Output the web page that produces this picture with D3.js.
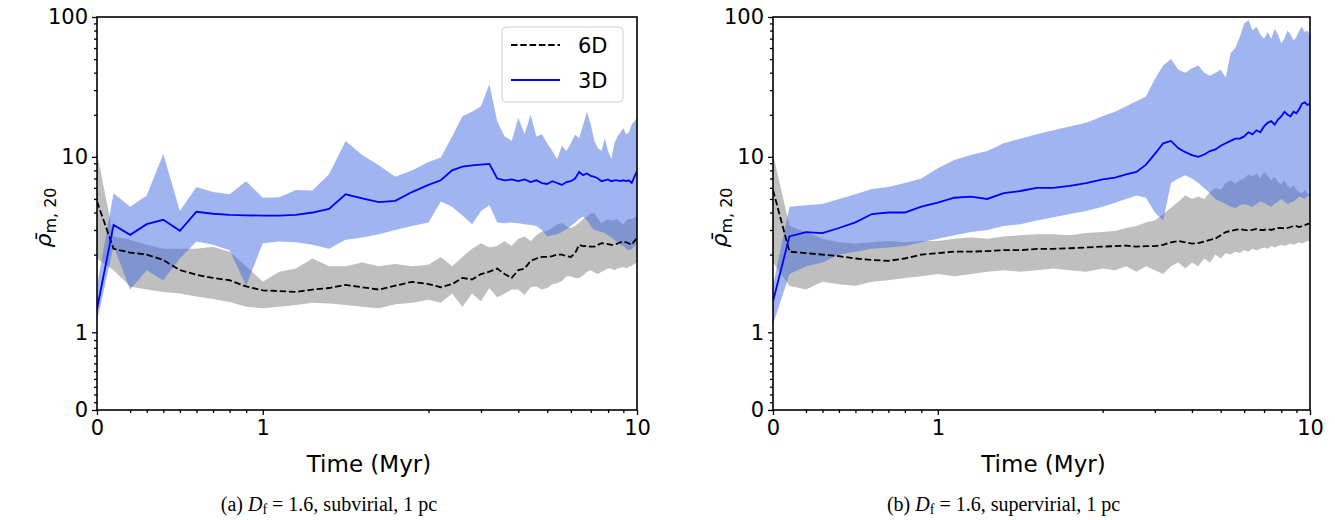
<!DOCTYPE html>
<html><head><meta charset="utf-8">
<script src="https://cdn.jsdelivr.net/npm/d3@7"></script>
<style>body{margin:0;background:#fff} svg{display:block}</style>
</head><body><svg id="c" width="1335" height="520"></svg>
<script>
// ---------------- DATA ----------------
const time = [0,0.1,0.2,0.3,0.4,0.5,0.6,0.7,0.8,0.9,1.0,1.1,1.2,1.3,1.4,1.5,1.6,1.7,1.8,1.9,
  2.0,2.2,2.4,2.6,2.8,3.0,3.2,3.4,3.6,3.8,4.0,4.2,4.4,4.6,4.8,5.0,5.2,5.4,5.6,5.8,6.0,6.2,6.4,6.6,6.8,7.0,7.2,7.4,7.6,7.8,8.0,8.2,8.4,8.6,8.8,9.0,9.2,9.4,9.6,9.8,10.0];

// panel (a) subvirial
const a3dMed = [1.3,3.26,2.77,3.3,3.55,2.96,4.05,3.92,3.85,3.82,3.8,3.8,3.85,4.0,4.25,5.4,5.05,4.75,4.85,5.6,
  6.3,6.8,8.0,8.5,8.7,8.8,8.9,7.0,6.8,6.9,6.7,6.9,6.6,6.8,6.5,6.4,6.7,6.5,6.3,6.6,6.7,7.0,7.8,7.4,7.6,7.3,7.2,7.0,6.7,6.8,6.9,6.7,6.8,6.8,6.7,6.8,6.7,6.8,6.5,7.2,7.9];
const a3dHi = [1.6,5.5,4.4,5.3,10.5,4.1,6.1,5.6,5.4,6.7,5.1,5.15,5.8,5.75,7.5,13.0,10.3,8.7,7.2,8.0,
  9.2,9.9,14,19.5,21,23,33,18,14,13,19,14.5,20,14,14.5,12.5,11,9.6,12,11,12.5,14.4,13.6,17,21,17,13,11.5,11,13.6,11,9.6,12.5,14,15,16,14.5,15,17,18,19];
const a3dLo = [1.15,2.3,1.55,1.8,1.67,1.95,2.48,2.35,2.15,1.6,2.41,2.48,2.45,2.35,2.2,2.55,2.65,2.8,3.0,3.2,
  3.4,4.8,4.4,3.8,3.3,4.1,4.5,3.4,3.35,3.4,3.35,3.3,3.25,3.2,3.0,2.7,2.75,2.8,2.9,3.05,3.2,3.4,3.6,3.74,3.5,3.2,3.0,2.95,2.9,2.85,2.75,2.65,2.55,2.45,2.35,2.3,2.2,2.15,2.2,2.3,2.4];
const a6dMed = [4.8,2.2,2.07,2.0,1.93,1.8,1.74,1.70,1.67,1.59,1.54,1.53,1.52,1.55,1.57,1.61,1.58,1.55,1.6,1.65,
  1.62,1.58,1.62,1.70,1.68,1.75,1.78,1.82,1.75,1.70,1.8,1.82,1.92,1.95,1.97,1.97,1.98,2.0,2.0,1.98,1.97,2.05,2.35,2.3,2.3,2.28,2.28,2.35,2.41,2.4,2.38,2.35,2.35,2.4,2.45,2.48,2.45,2.4,2.35,2.5,2.62];
const a6dHi = [10.6,2.7,2.55,2.35,2.2,2.2,2.2,2.28,2.1,1.85,1.65,1.78,1.82,1.95,1.85,1.85,1.9,1.85,1.88,1.85,
  1.87,1.97,1.85,1.97,2.2,2.41,2.25,2.3,2.5,2.3,2.6,2.7,2.5,2.75,2.92,2.95,3.1,3.3,3.35,3.2,3.1,3.2,3.4,3.6,3.74,3.95,3.95,3.6,3.35,3.5,3.6,3.5,3.55,3.6,3.4,3.3,3.5,3.6,3.6,3.7,3.74];
const a6dLo = [1.95,1.8,1.59,1.55,1.52,1.5,1.46,1.43,1.39,1.33,1.31,1.33,1.35,1.38,1.37,1.35,1.33,1.31,1.36,1.38,
  1.42,1.38,1.5,1.33,1.5,1.4,1.57,1.45,1.5,1.55,1.55,1.48,1.58,1.59,1.55,1.57,1.62,1.63,1.66,1.72,1.72,1.70,1.70,1.73,1.78,1.80,1.77,1.75,1.78,1.80,1.82,1.82,1.8,1.82,1.83,1.84,1.82,1.84,1.86,1.88,1.9];

// panel (b) supervirial
const b3dMed = [1.4,2.7,2.9,2.85,3.1,3.4,3.9,4.0,4.0,4.4,4.7,5.1,5.2,5.0,5.5,5.7,6.0,6.0,6.2,6.5,
  6.9,7.1,7.5,7.8,8.8,10.5,12.5,13,11.5,10.8,10.3,10.0,10.4,11.0,11.3,12.0,12.5,13.0,13.5,13.5,14.0,15,14.5,15.5,15,16.5,17.5,18,17,18.5,19.5,21,20,19.5,21,20.5,22,24,24.5,23.5,24];
const b3dHi = [1.6,4.4,4.5,4.6,5.0,5.4,5.9,6.1,6.5,7.0,8.3,9.5,10.3,11,12.5,13.5,14.5,15.5,16.5,17.5,
  19.5,21,23,25,27,36,45,50,42,40,43,45,40,38,40,42,37,55,60,72,90,95,80,85,75,70,78,70,82,75,65,70,80,75,68,72,80,85,78,80,75];
const b3dLo = [1.1,1.75,1.85,1.9,2.0,2.1,2.2,2.25,2.3,2.45,2.6,2.75,2.9,3.0,3.2,3.3,3.5,3.7,3.9,4.1,
  4.4,4.7,5.0,5.3,5.1,4.0,3.5,6.5,7.0,7.4,7.0,6.5,6.0,5.5,5.0,4.8,4.6,4.4,4.3,4.5,4.6,4.5,4.4,4.6,4.8,4.7,4.5,4.4,4.6,4.8,5.0,4.8,4.6,4.7,4.8,5.0,5.2,5.1,5.0,5.2,5.3];
const b6dMed = [5.8,2.1,2.05,2.0,1.98,1.95,1.93,1.92,1.95,2.0,2.05,2.1,2.1,2.12,2.15,2.15,2.2,2.2,2.22,2.25,
  2.28,2.3,2.32,2.28,2.3,2.3,2.35,2.45,2.5,2.45,2.4,2.42,2.48,2.55,2.6,2.75,2.9,2.95,3.0,3.05,3.0,2.98,3.0,3.05,3.0,3.0,3.05,3.0,3.05,3.1,3.1,3.08,3.1,3.15,3.2,3.2,3.15,3.2,3.25,3.3,3.35];
const b6dHi = [10.5,3.2,2.9,2.6,2.45,2.4,2.45,2.5,2.45,2.5,2.5,2.6,2.65,2.6,2.7,2.75,2.8,2.8,2.75,2.85,
  2.9,2.95,3.1,3.2,3.4,3.5,3.9,4.3,4.8,5.3,5.0,5.2,5.0,5.6,6.0,5.8,6.5,6.8,6.4,6.8,7.0,7.5,7.2,7.6,7.0,7.8,7.3,6.8,7.2,6.6,6.4,6.8,6.2,6.0,6.3,5.8,5.6,5.5,5.8,5.5,5.3];
const b6dLo = [1.9,1.6,1.55,1.65,1.62,1.6,1.65,1.67,1.7,1.72,1.75,1.72,1.75,1.78,1.8,1.78,1.8,1.82,1.8,1.78,
  1.82,1.8,1.85,1.78,1.85,1.8,1.75,1.85,1.9,1.82,1.9,1.85,1.95,1.9,2.0,1.95,2.05,2.0,2.1,2.05,2.15,2.1,2.2,2.15,2.2,2.25,2.2,2.3,2.25,2.3,2.35,2.3,2.35,2.4,2.35,2.4,2.45,2.4,2.45,2.5,2.5];

const xMajor = [0, 1, 10];
const xMinor = [0.2,0.3,0.4,0.5,0.6,0.7,0.8,0.9,2,3,4,5,6,7,8,9];
const yMajor = [0, 1, 10, 100];
const yMinor = [0.1,0.2,0.3,0.4,0.5,0.6,0.7,0.8,0.9,2,3,4,5,6,7,8,9,20,30,40,50,60,70,80,90];
const legendLabels = ["6D", "3D"];
const captions = [
  {pre:"(a) ", sym:"D", sub:"f", post:" = 1.6, subvirial, 1 pc"},
  {pre:"(b) ", sym:"D", sub:"f", post:" = 1.6, supervirial, 1 pc"}
];

// ---------------- SCALES (matplotlib-like symlog, linthresh 2) ----------------
const LT = 2, LS = 1 / (1 - 1 / 10);
function fwd(v){ const a = Math.abs(v); const r = a <= LT ? a * LS : LT * (LS + Math.log10(a / LT)); return v < 0 ? -r : r; }
function symlogScale(d0, d1, r0, r1){
  const lin = d3.scaleLinear().domain([fwd(d0), fwd(d1)]).range([r0, r1]);
  const s = v => lin(fwd(v));
  s.domain = () => [d0, d1];
  s.range = () => lin.range();
  s.copy = () => symlogScale(d0, d1, r0, r1);
  return s;
}

const svg = d3.select("#c");
const FONT = "DejaVu Sans, sans-serif";

const panels = [
  {x0:97, x1:637, y0:410, y1:17, data:{m3:a3dMed,h3:a3dHi,l3:a3dLo,m6:a6dMed,h6:a6dHi,l6:a6dLo}, legend:true, cap:captions[0]},
  {x0:773, x1:1310, y0:410, y1:17, data:{m3:b3dMed,h3:b3dHi,l3:b3dLo,m6:b6dMed,h6:b6dHi,l6:b6dLo}, legend:false, cap:captions[1]}
];

panels.forEach((p, i) => {
  const x = symlogScale(0, 10, p.x0, p.x1);
  const y = symlogScale(0, 100, p.y0, p.y1);
  const rows = time.map((t, k) => ({t, m3:p.data.m3[k], h3:p.data.h3[k], l3:p.data.l3[k], m6:p.data.m6[k], h6:p.data.h6[k], l6:p.data.l6[k]}));

  const clipId = "clip" + i;
  svg.append("clipPath").attr("id", clipId).append("rect")
    .attr("x", p.x0).attr("y", p.y1).attr("width", p.x1 - p.x0).attr("height", p.y0 - p.y1);
  const g = svg.append("g").attr("clip-path", `url(#${clipId})`);

  g.append("path").datum(rows)
    .attr("d", d3.area().x(d => x(d.t)).y0(d => y(d.l6)).y1(d => y(d.h6)))
    .attr("fill", "#808080").attr("fill-opacity", 0.5);
  g.append("path").datum(rows)
    .attr("d", d3.area().x(d => x(d.t)).y0(d => y(d.l3)).y1(d => y(d.h3)))
    .attr("fill", "#4169e1").attr("fill-opacity", 0.5);
  g.append("path").datum(rows)
    .attr("d", d3.line().x(d => x(d.t)).y(d => y(d.m6)))
    .attr("fill", "none").attr("stroke", "#000").attr("stroke-width", 1.8).attr("stroke-dasharray", "6.5,2.8");
  g.append("path").datum(rows)
    .attr("d", d3.line().x(d => x(d.t)).y(d => y(d.m3)))
    .attr("fill", "none").attr("stroke", "#0000ff").attr("stroke-width", 1.8);

  // axes
  svg.append("g").attr("class", "ax").attr("transform", `translate(0,${p.y0})`)
    .call(d3.axisBottom(x).tickValues(xMajor).tickFormat(d3.format("d")).tickSize(5).tickPadding(5));
  svg.append("g").attr("class", "ax").attr("transform", `translate(0,${p.y0})`)
    .call(d3.axisBottom(x).tickValues(xMinor).tickFormat("").tickSize(3));
  svg.append("g").attr("class", "ax").attr("transform", `translate(${p.x0},0)`)
    .call(d3.axisLeft(y).tickValues(yMajor).tickFormat(d3.format("d")).tickSize(5).tickPadding(4));
  svg.append("g").attr("class", "ax").attr("transform", `translate(${p.x0},0)`)
    .call(d3.axisLeft(y).tickValues(yMinor).tickFormat("").tickSize(3));
  svg.selectAll(".domain").remove();
  svg.selectAll(".tick line").attr("stroke", "#000").attr("stroke-width", 1.3);
  svg.selectAll(".tick text").attr("font-family", FONT).attr("font-size", 21).attr("fill", "#000");

  svg.append("rect").attr("x", p.x0).attr("y", p.y1).attr("width", p.x1 - p.x0).attr("height", p.y0 - p.y1)
    .attr("fill", "none").attr("stroke", "#000").attr("stroke-width", 1.6);

  // axis labels
  const cx = (p.x0 + p.x1) / 2;
  svg.append("text").attr("x", cx + 2).attr("y", 472).attr("text-anchor", "middle")
    .attr("font-family", FONT).attr("font-size", 23).text("Time (Myr)");

  const yl = svg.append("text").attr("transform", `translate(${p.x0 - 46},${(p.y0 + p.y1) / 2 + 4}) rotate(-90)`)
    .attr("text-anchor", "middle").attr("font-family", FONT).attr("font-size", 22);
  yl.append("tspan").attr("font-style", "italic").text("ρ\u0304");
  yl.append("tspan").attr("font-size", 16).attr("dy", 5).text("m, 20");

  // caption
  const cap = svg.append("text").attr("x", cx - 38).attr("y", 511).attr("text-anchor", "middle")
    .attr("font-family", "Liberation Serif, Times New Roman, serif").attr("font-size", 20);
  cap.append("tspan").text(p.cap.pre);
  cap.append("tspan").attr("font-style", "italic").text(p.cap.sym);
  cap.append("tspan").attr("font-size", 14).attr("dy", 3).text(p.cap.sub);
  cap.append("tspan").attr("dy", -3).text(p.cap.post);

  if (p.legend) {
    const lg = svg.append("g");
    lg.append("rect").attr("x", 502).attr("y", 27).attr("width", 121).attr("height", 75).attr("rx", 4)
      .attr("fill", "#fff").attr("fill-opacity", 0.8).attr("stroke", "#d0d0d0");
    const rowsY = [45, 80];
    lg.append("line").attr("x1", 511).attr("x2", 560).attr("y1", rowsY[0]).attr("y2", rowsY[0])
      .attr("stroke", "#000").attr("stroke-width", 1.8).attr("stroke-dasharray", "6.5,2.8");
    lg.append("line").attr("x1", 511).attr("x2", 560).attr("y1", rowsY[1]).attr("y2", rowsY[1])
      .attr("stroke", "#0000ff").attr("stroke-width", 1.8);
    legendLabels.forEach((t, k) => {
      lg.append("text").attr("x", 578).attr("y", rowsY[k]).attr("dy", "0.36em")
        .attr("font-family", FONT).attr("font-size", 21).text(t);
    });
  }
});
</script>
</body></html>
